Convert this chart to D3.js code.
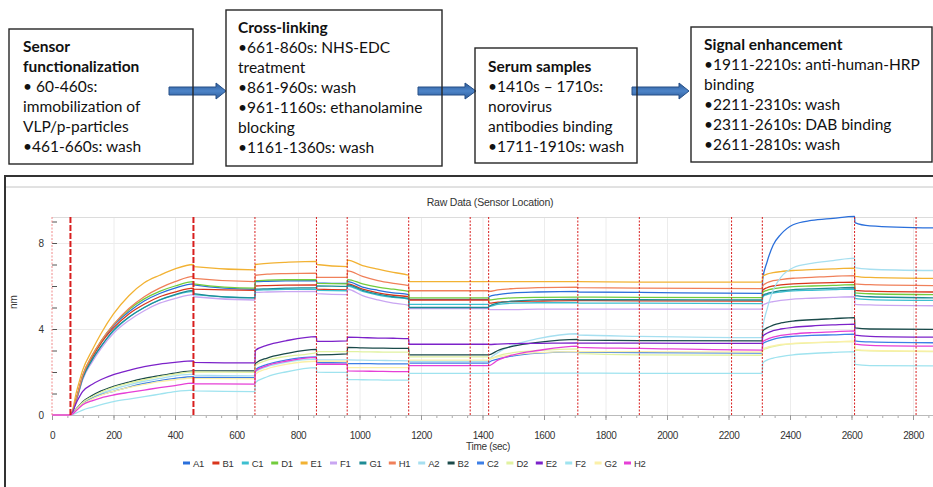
<!DOCTYPE html>
<html>
<head>
<meta charset="utf-8">
<script src="https://cdn.jsdelivr.net/npm/d3@7"></script>
<style>
  body { margin: 0; background: #fff; }
  svg { display: block; }
</style>
</head>
<body>
<svg id="fig" width="933" height="487"></svg>
<script>
// sample times (sec), shared by every sensor trace
var times = [0, 60, 80, 100, 130, 160, 200, 250, 300, 350, 400, 460,
  461, 660,
  661, 700, 760, 860,
  861, 960,
  961, 1010, 1060, 1110, 1160,
  1161, 1420,
  1421, 1450, 1500, 1580, 1710,
  1711, 1910, 2310,
  2311, 2325, 2345, 2370, 2410, 2470, 2540, 2610,
  2611, 2660, 2870];

// responses (nm)
var A1 = [0, 0, 0.8, 1.8, 2.7, 3.4, 4.15, 4.8, 5.3, 5.65, 5.9, 6.1,
  6.05, 5.85, 6.2, 6.22, 6.24, 6.25, 6.15, 6.12, 6.2, 5.95, 5.8, 5.68, 5.6,
  5.38, 5.38, 5.5, 5.6, 5.68, 5.72, 5.75, 5.72, 5.7, 5.66,
  6.3, 7.1, 7.9, 8.4, 8.85, 9.05, 9.15, 9.24, 8.95, 8.8, 8.7];
var B1 = [0, 0, 0.8, 1.8, 2.65, 3.35, 4.05, 4.7, 5.15, 5.5, 5.72, 5.9,
  5.85, 5.8, 6.0, 6.02, 6.04, 6.05, 5.85, 5.82, 6.1, 5.85, 5.68, 5.57, 5.5,
  5.35, 5.35, 5.2, 5.25, 5.28, 5.3, 5.32, 5.32, 5.31, 5.3,
  5.8, 5.92, 6.0, 6.05, 6.1, 6.13, 6.16, 6.18, 5.8, 5.76, 5.72];
var C1 = [0, 0, 0.75, 1.7, 2.55, 3.2, 3.9, 4.55, 5.0, 5.35, 5.58, 5.75,
  5.6, 5.45, 5.8, 5.82, 5.84, 5.85, 5.8, 5.78, 6.0, 5.75, 5.58, 5.47, 5.38,
  5.15, 5.15, 5.05, 5.15, 5.2, 5.22, 5.22, 5.2, 5.2, 5.18,
  5.5, 5.6, 5.67, 5.72, 5.77, 5.8, 5.83, 5.86, 5.42, 5.37, 5.33];
var D1 = [0, 0, 0.8, 1.85, 2.75, 3.45, 4.2, 4.9, 5.4, 5.75, 6.0, 6.2,
  6.1, 5.9, 6.25, 6.27, 6.29, 6.3, 6.12, 6.1, 6.3, 6.1, 5.95, 5.85, 5.75,
  5.45, 5.45, 5.35, 5.4, 5.45, 5.47, 5.48, 5.48, 5.47, 5.46,
  5.7, 5.8, 5.87, 5.92, 5.97, 6.0, 6.03, 6.06, 5.68, 5.64, 5.6];
var E1 = [0, 0, 1.1, 2.1, 3.0, 3.8, 4.7, 5.55, 6.15, 6.5, 6.8, 7.0,
  6.9, 6.75, 7.0, 7.05, 7.1, 7.15, 7.0, 6.9, 7.2, 6.95, 6.78, 6.63, 6.5,
  6.2, 6.2, 6.2, 6.2, 6.2, 6.2, 6.2, 6.2, 6.18, 6.18,
  6.45, 6.55, 6.62, 6.67, 6.72, 6.76, 6.8, 6.83, 6.45, 6.4, 6.35];
var F1 = [0, 0, 0.7, 1.65, 2.45, 3.1, 3.8, 4.4, 4.85, 5.2, 5.42, 5.6,
  5.5, 5.35, 5.7, 5.72, 5.74, 5.75, 5.65, 5.6, 5.85, 5.55, 5.35, 5.2, 5.1,
  4.95, 4.95, 4.9, 4.9, 4.9, 4.92, 4.92, 4.92, 4.92, 4.92,
  5.1, 5.2, 5.27, 5.33, 5.39, 5.43, 5.47, 5.5, 5.15, 5.12, 5.08];
var G1 = [0, 0, 0.75, 1.72, 2.55, 3.2, 3.95, 4.55, 5.0, 5.35, 5.6, 5.8,
  5.65, 5.45, 5.85, 5.87, 5.9, 5.92, 6.0, 5.98, 6.05, 5.8, 5.62, 5.5, 5.42,
  5.0, 5.0, 5.05, 5.2, 5.3, 5.35, 5.38, 5.36, 5.36, 5.35,
  5.55, 5.65, 5.72, 5.78, 5.83, 5.87, 5.9, 5.93, 5.55, 5.5, 5.45];
var H1 = [0, 0, 0.8, 1.85, 2.75, 3.45, 4.2, 4.95, 5.5, 5.9, 6.2, 6.45,
  6.35, 6.2, 6.5, 6.55, 6.58, 6.6, 6.4, 6.4, 6.7, 6.45, 6.25, 6.12, 6.02,
  5.78, 5.78, 5.75, 5.82, 5.88, 5.92, 5.95, 5.92, 5.9, 5.88,
  6.0, 6.15, 6.25, 6.3, 6.36, 6.4, 6.45, 6.48, 6.1, 6.06, 6.02];
var A2 = [0, 0, 0.26, 0.55, 0.8, 1.0, 1.2, 1.4, 1.57, 1.7, 1.82, 1.9,
  1.85, 1.82, 2.0, 2.25, 2.45, 2.6, 2.56, 2.56, 2.56, 2.55, 2.54, 2.53, 2.52,
  2.5, 2.5, 2.55, 2.9, 3.25, 3.55, 3.78, 3.72, 3.66, 3.6,
  4.0, 4.9, 5.8, 6.4, 6.85, 7.05, 7.18, 7.3, 6.85, 6.78, 6.72];
var B2 = [0, 0, 0.3, 0.62, 0.9, 1.12, 1.33, 1.53, 1.7, 1.83, 1.95, 2.05,
  2.05, 2.05, 2.4, 2.65, 2.85, 3.05, 2.8, 2.84, 3.14, 3.12, 3.11, 3.1, 3.1,
  2.8, 2.8, 2.8, 3.0, 3.2, 3.38, 3.52, 3.48, 3.46, 3.45,
  3.9, 4.05, 4.18, 4.28, 4.37, 4.43, 4.48, 4.53, 4.05, 4.0, 3.98];
var C2 = [0, 0, 0.25, 0.55, 0.78, 0.95, 1.1, 1.3, 1.47, 1.6, 1.7, 1.78,
  1.75, 1.74, 2.1, 2.35, 2.55, 2.7, 2.44, 2.42, 2.39, 2.39, 2.38, 2.38, 2.38,
  2.41, 2.41, 2.45, 2.6, 2.75, 2.88, 2.95, 2.92, 2.9, 2.88,
  3.3, 3.42, 3.52, 3.6, 3.66, 3.7, 3.73, 3.76, 3.45, 3.4, 3.36];
var D2 = [0, 0, 0.28, 0.58, 0.85, 1.07, 1.28, 1.48, 1.64, 1.78, 1.9, 2.0,
  2.0, 1.98, 2.3, 2.55, 2.72, 2.9, 2.95, 2.95, 2.95, 2.94, 2.93, 2.92, 2.92,
  2.7, 2.7, 2.6, 2.75, 2.9, 3.0, 3.08, 2.85, 2.8, 2.78,
  3.0, 3.1, 3.18, 3.25, 3.31, 3.35, 3.39, 3.42, 3.02, 2.98, 2.95];
var E2 = [0, 0, 0.6, 1.1, 1.42, 1.65, 1.88, 2.08, 2.25, 2.37, 2.45, 2.52,
  2.45, 2.42, 3.0, 3.25, 3.45, 3.65, 3.42, 3.45, 3.62, 3.6, 3.58, 3.57, 3.55,
  3.29, 3.29, 3.28, 3.3, 3.32, 3.33, 3.35, 3.34, 3.34, 3.33,
  3.65, 3.8, 3.92, 4.0, 4.08, 4.14, 4.19, 4.23, 3.72, 3.66, 3.62];
var F2 = [0, 0, 0.1, 0.23, 0.36, 0.48, 0.62, 0.74, 0.85, 0.97, 1.09, 1.16,
  1.12, 1.09, 1.5, 1.78, 2.0, 2.2, 1.99, 1.98, 1.65, 1.64, 1.63, 1.62, 1.62,
  1.94, 1.94, 1.95, 1.95, 1.95, 1.95, 1.95, 1.95, 1.94, 1.94,
  2.4, 2.55, 2.65, 2.72, 2.8, 2.86, 2.91, 2.95, 2.35, 2.3, 2.28];
var G2 = [0, 0, 0.24, 0.5, 0.74, 0.92, 1.1, 1.28, 1.42, 1.55, 1.64, 1.72,
  1.7, 1.68, 1.9, 2.15, 2.35, 2.5, 2.5, 2.5, 2.2, 2.2, 2.2, 2.2, 2.2,
  2.55, 2.55, 2.6, 2.7, 2.8, 2.9, 2.95, 2.95, 2.95, 2.93,
  3.05, 3.15, 3.22, 3.28, 3.33, 3.37, 3.4, 3.43, 3.05, 3.0, 2.97];
var H2 = [0, 0, 0.22, 0.48, 0.66, 0.8, 0.93, 1.05, 1.16, 1.27, 1.37, 1.48,
  1.45, 1.44, 2.05, 2.3, 2.5, 2.68, 2.36, 2.36, 2.05, 2.04, 2.03, 2.02, 2.02,
  2.3, 2.3, 2.3, 2.55, 2.8, 3.0, 3.2, 3.15, 3.1, 3.02,
  3.4, 3.52, 3.62, 3.7, 3.77, 3.83, 3.87, 3.91, 3.3, 3.24, 3.2];

var sensor_names = ["A1", "B1", "C1", "D1", "E1", "F1", "G1", "H1",
  "A2", "B2", "C2", "D2", "E2", "F2", "G2", "H2"];
var sensor_values = [A1, B1, C1, D1, E1, F1, G1, H1, A2, B2, C2, D2, E2, F2, G2, H2];
var sensor_colors = ["#2a6fdb", "#d9351c", "#3dbfd0", "#72cc3c", "#f2b233", "#c9a6f2",
  "#1e8c95", "#f0805a", "#a6dff0", "#1a4a4a", "#3d7fe6", "#e1f2a0",
  "#7c22c9", "#9fe3ef", "#fbf0a8", "#e63fd6"];

// step boundaries (sec); the first two loading steps are drawn heavier
var step_marks = [0, 60, 460, 660, 860, 960, 1160, 1360, 1420, 1710, 1910, 2210, 2310, 2610, 2810];
var heavy_marks = [60, 460];

var x_ticks = d3.range(0, 2801, 200);
var y_ticks = [0, 1, 2, 3, 4, 5, 6, 7, 8, 9];
var y_labelled = [0, 4, 8];

// protocol boxes above the chart
var box_texts = [
  [["Sensor", true], ["functionalization", true], ["\u2022 60-460s:", false],
    ["immobilization of", false], ["VLP/p-particles", false], ["\u2022461-660s: wash", false]],
  [["Cross-linking", true], ["\u2022661-860s: NHS-EDC", false], ["treatment", false],
    ["\u2022861-960s: wash", false], ["\u2022961-1160s: ethanolamine", false], ["blocking", false],
    ["\u20221161-1360s: wash", false]],
  [["Serum samples", true], ["\u20221410s \u2013 1710s:", false], ["norovirus", false],
    ["antibodies binding", false], ["\u20221711-1910s: wash", false]],
  [["Signal enhancement", true], ["\u20221911-2210s: anti-human-HRP", false], ["binding", false],
    ["\u20222211-2310s: wash", false], ["\u20222311-2610s: DAB binding", false],
    ["\u20222611-2810s: wash", false]]
];

var box_frames = [
  {x: 9, y: 29, w: 184, h: 135, tx: 23, ty: 52},
  {x: 226, y: 10, w: 216, h: 156, tx: 238, ty: 33},
  {x: 475, y: 48, w: 162, h: 115, tx: 488, ty: 72},
  {x: 691, y: 27, w: 241, h: 135, tx: 704, ty: 50}
];
var arrow_spots = [[169, 216, 226], [418, 465, 476], [632, 679, 689]];

var chart_font = "'Liberation Sans', Arial, sans-serif";

var svg = d3.select("#fig");
svg.append("rect").attr("width", 933).attr("height", 487).attr("fill", "#fff");

// ---- flow diagram ----
var defs = svg.append("defs");
var grad = defs.append("linearGradient").attr("id", "arrow_fill")
    .attr("x1", 0).attr("y1", 0).attr("x2", 0).attr("y2", 1);
grad.append("stop").attr("offset", "0%").attr("stop-color", "#2c5b99");
grad.append("stop").attr("offset", "50%").attr("stop-color", "#4d84c8");
grad.append("stop").attr("offset", "100%").attr("stop-color", "#2c5b99");

var arrow_y = 91;
svg.selectAll(".arrow")
    .data(arrow_spots)
    .enter().append("polygon")
    .attr("class", "arrow")
    .attr("points", function (a) {
      return [[a[0], arrow_y - 4], [a[1], arrow_y - 4], [a[1], arrow_y - 8], [a[2], arrow_y],
        [a[1], arrow_y + 8], [a[1], arrow_y + 4], [a[0], arrow_y + 4]].join(" ");
    })
    .attr("fill", "url(#arrow_fill)")
    .attr("stroke", "#264f86")
    .attr("stroke-width", 1);

box_frames.forEach(function (b, i) {
  svg.append("rect")
      .attr("x", b.x).attr("y", b.y)
      .attr("width", b.w).attr("height", b.h)
      .attr("fill", "none")
      .attr("stroke", "#262626")
      .attr("stroke-width", 1.4);
  var txt = svg.append("text")
      .attr("font-family", "Lato, 'Open Sans', sans-serif")
      .attr("font-size", 15.5)
      .attr("fill", "#111");
  box_texts[i].forEach(function (line, j) {
    txt.append("tspan")
        .attr("x", b.tx)
        .attr("y", b.ty + j * 20)
        .attr("font-weight", line[1] ? "bold" : "normal")
        .text(line[0]);
  });
});

// ---- chart panel ----
svg.append("rect")
    .attr("x", 5).attr("y", 176)
    .attr("width", 950).attr("height", 330)
    .attr("fill", "none")
    .attr("stroke", "#333")
    .attr("stroke-width", 2);
svg.append("line")
    .attr("x1", 6).attr("x2", 933).attr("y1", 187).attr("y2", 187)
    .attr("stroke", "#c4c4c4");

var plot_top = 217, plot_bottom = 415, plot_left = 52, plot_right = 934;

var x = d3.scaleLinear().domain([0, 2800]).range([plot_left, 913]);
var y = d3.scaleLinear().domain([0, 8]).range([plot_bottom, 243]);

svg.append("text")
    .attr("x", 490).attr("y", 206)
    .attr("text-anchor", "middle")
    .attr("font-family", chart_font)
    .attr("font-size", 10.5)
    .attr("letter-spacing", -0.2)
    .attr("fill", "#333")
    .text("Raw Data (Sensor Location)");

// grid
var grid = svg.append("g").attr("stroke", "#ececec").attr("stroke-width", 1);
grid.selectAll(".vg").data(x_ticks.slice(1)).enter().append("line")
    .attr("x1", function (d) { return x(d) + 0.5; })
    .attr("x2", function (d) { return x(d) + 0.5; })
    .attr("y1", plot_top).attr("y2", plot_bottom);
grid.selectAll(".hg").data(y_labelled.slice(1)).enter().append("line")
    .attr("x1", plot_left).attr("x2", plot_right)
    .attr("y1", function (d) { return Math.round(y(d)) + 0.5; })
    .attr("y2", function (d) { return Math.round(y(d)) + 0.5; });
svg.append("line")
    .attr("x1", plot_left).attr("x2", plot_right)
    .attr("y1", plot_top + 0.5).attr("y2", plot_top + 0.5)
    .attr("stroke", "#dcdcdc");

// axes
var x_minor = svg.append("g")
    .attr("transform", "translate(0," + plot_bottom + ")")
    .call(d3.axisBottom(x).tickValues(d3.range(0, 2871, 50)).tickSize(3).tickFormat(""));
x_minor.select(".domain").remove();
x_minor.selectAll("line").attr("stroke", "#aaa");

var x_axis = svg.append("g")
    .attr("transform", "translate(0," + plot_bottom + ")")
    .call(d3.axisBottom(x).tickValues(x_ticks).tickSize(5).tickPadding(12).tickSizeOuter(0)
        .tickFormat(d3.format("d")));
x_axis.select(".domain").attr("stroke", "#bbb").attr("d", "M" + plot_left + ",0.5H" + plot_right);
x_axis.selectAll("line").attr("stroke", "#999");
x_axis.selectAll("text")
    .attr("font-family", chart_font)
    .attr("font-size", 10)
    .attr("letter-spacing", -0.4)
    .attr("fill", "#333");

var y_axis = svg.append("g")
    .attr("transform", "translate(" + plot_left + ",0)")
    .call(d3.axisLeft(y).tickValues(y_ticks).tickSizeInner(-5).tickSizeOuter(0).tickPadding(8)
        .tickFormat(function (d) { return y_labelled.indexOf(d) >= 0 ? d : ""; }));
y_axis.select(".domain").remove();
y_axis.selectAll("line").attr("stroke", "#555");
y_axis.selectAll("text")
    .attr("font-family", chart_font)
    .attr("font-size", 10)
    .attr("fill", "#333");

svg.append("text")
    .attr("transform", "translate(17,302) rotate(-90)")
    .attr("text-anchor", "middle")
    .attr("font-family", chart_font)
    .attr("font-size", 10)
    .attr("fill", "#333")
    .text("nm");

svg.append("text")
    .attr("x", 488).attr("y", 450)
    .attr("text-anchor", "middle")
    .attr("font-family", chart_font)
    .attr("font-size", 10)
    .attr("letter-spacing", -0.3)
    .attr("fill", "#333")
    .text("Time (sec)");

// sensor traces
var trace = d3.line()
    .x(function (d) { return x(d[0]); })
    .y(function (d) { return y(d[1]); })
    .curve(d3.curveMonotoneX);

svg.append("defs").append("clipPath").attr("id", "plot_clip")
    .append("rect").attr("x", plot_left).attr("y", plot_top - 3)
    .attr("width", plot_right - plot_left).attr("height", plot_bottom - plot_top + 4);

svg.append("g")
    .attr("clip-path", "url(#plot_clip)")
    .selectAll("path")
    .data(sensor_values)
    .enter().append("path")
    .attr("d", function (vals) {
      return trace(times.map(function (t, i) { return [t, vals[i]]; }));
    })
    .attr("fill", "none")
    .attr("stroke", function (d, i) { return sensor_colors[i]; })
    .attr("stroke-width", 1.3);

// step markers
svg.append("g").selectAll("line")
    .data(step_marks)
    .enter().append("line")
    .attr("x1", function (d) { return x(d); })
    .attr("x2", function (d) { return x(d); })
    .attr("y1", plot_top).attr("y2", plot_bottom)
    .attr("stroke", function (d) { return d === 0 ? "#f08a8a" : "#d81e1e"; })
    .attr("stroke-width", function (d) { return heavy_marks.indexOf(d) >= 0 ? 2 : 1; })
    .attr("stroke-dasharray", function (d) { return heavy_marks.indexOf(d) >= 0 ? "6,2" : "2,1.5"; });

// legend
var legend = svg.append("g")
    .attr("font-family", chart_font)
    .attr("font-size", 9.5)
    .attr("letter-spacing", -0.3)
    .attr("fill", "#333");
var item = legend.selectAll("g")
    .data(sensor_names)
    .enter().append("g")
    .attr("transform", function (d, i) { return "translate(" + (183 + i * 29.4) + ",463)"; });
item.append("rect")
    .attr("x", 0).attr("y", -1.5)
    .attr("width", 7).attr("height", 3)
    .attr("fill", function (d, i) { return sensor_colors[i]; });
item.append("text")
    .attr("x", 10).attr("y", 3.5)
    .text(function (d) { return d; });
</script>
</body>
</html>
